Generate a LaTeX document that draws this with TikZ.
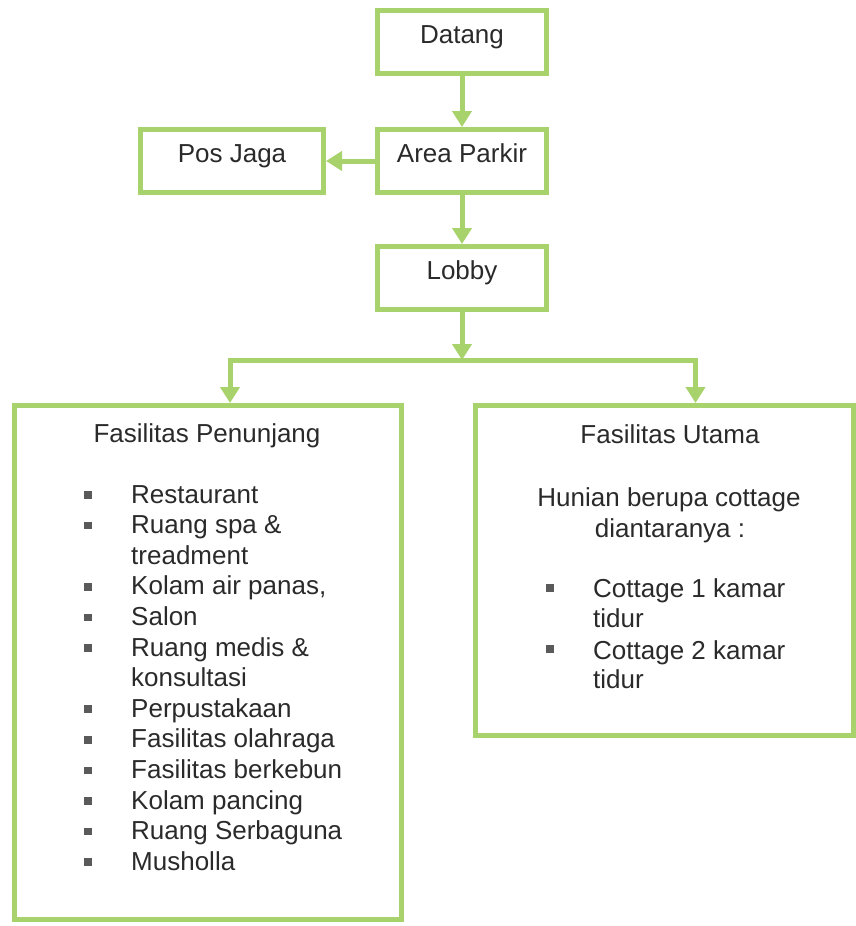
\documentclass[tikz,border=0pt]{standalone}
\usepackage{fontspec}
\setmainfont{Liberation Sans}
\usepackage{xcolor}
\definecolor{cLine}{HTML}{A8D26C}
\definecolor{cText}{HTML}{2A2A2A}
\definecolor{cDot}{HTML}{5A5A5A}
\usetikzlibrary{positioning,arrows.meta}
\tikzset{
  flow-box/.style={draw=cLine,line width=5pt,minimum width=169pt,
    minimum height=63pt,inner sep=0pt,text=cText,
    text height=0.6em,text depth=0.25em},
  big-box/.style={draw=cLine,line width=5pt,inner sep=0pt},
  arrow/.style={-{Triangle[length=16pt,width=19pt]},line width=5pt,draw=cLine},
  item-text/.style={anchor=base west,inner sep=0pt,text=cText},
  head-text/.style={anchor=base,inner sep=0pt,text=cText},
  dot/.style={fill=cDot,minimum size=7.5pt,inner sep=0pt},
}

\begin{document}
\begin{tikzpicture}[x=1pt,y=-1pt,font=\fontsize{26}{30}\selectfont]
  \useasboundingbox (0,0) rectangle (856,926);

  \node[flow-box] (datang) at (462,42) {Datang};
  \node[flow-box,below=51pt of datang] (parkir) {Area Parkir};
  \node[flow-box,left=49pt of parkir,minimum width=183pt] (posjaga) {Pos Jaga};
  \node[flow-box,below=49pt of parkir] (lobby) {Lobby};
  \draw[arrow] (datang) -- (parkir);
  \draw[arrow] (parkir) -- (posjaga);
  \draw[arrow] (parkir) -- (lobby);

  \node[big-box,minimum width=387pt,minimum height=514pt] (penunjang) at (208,662.5) {};
  \node[big-box,minimum width=378pt,minimum height=330pt] (utama) at (664.5,570.5) {};

  \coordinate (split) at (lobby.south |- 0,360);
  \draw[arrow] (lobby) -- (split);
  \draw[arrow] (split) -| ([xshift=22pt]penunjang.north);
  \draw[arrow] (split) -| ([xshift=31pt]utama.north);

  % fasilitas penunjang
  \node[head-text] (pen-title) at (207,442) {Fasilitas Penunjang};
  \foreach \i/\txt in {0/Restaurant,1/Ruang spa \&,2/treadment,
      3/{Kolam air panas,},4/Salon,5/Ruang medis \&,6/konsultasi,
      7/Perpustakaan,8/Fasilitas olahraga,9/Fasilitas berkebun,
      10/Kolam pancing,11/Ruang Serbaguna,12/Musholla}
    \node[item-text] (pen-\i) at (131,503+30.6*\i) {\txt};
  \foreach \i in {0,1,3,4,5,7,8,9,10,11,12}
    \node[dot] (pen-dot-\i) at (88,495+30.6*\i) {};

  % fasilitas utama
  \node[head-text] (uta-title) at (670,443) {Fasilitas Utama};
  \node[head-text] (uta-sub1) at (669,506) {Hunian berupa cottage};
  \node[head-text] (uta-sub2) at (670,537) {diantaranya :};
  \foreach \i/\txt/\y in {0/Cottage 1 kamar/597,1/tidur/627,
      2/Cottage 2 kamar/659,3/tidur/688}
    \node[item-text] (uta-\i) at (593,\y) {\txt};
  \node[dot] (uta-dot-0) at (550,588) {};
  \node[dot] (uta-dot-2) at (550,649) {};
\end{tikzpicture}
\end{document}
